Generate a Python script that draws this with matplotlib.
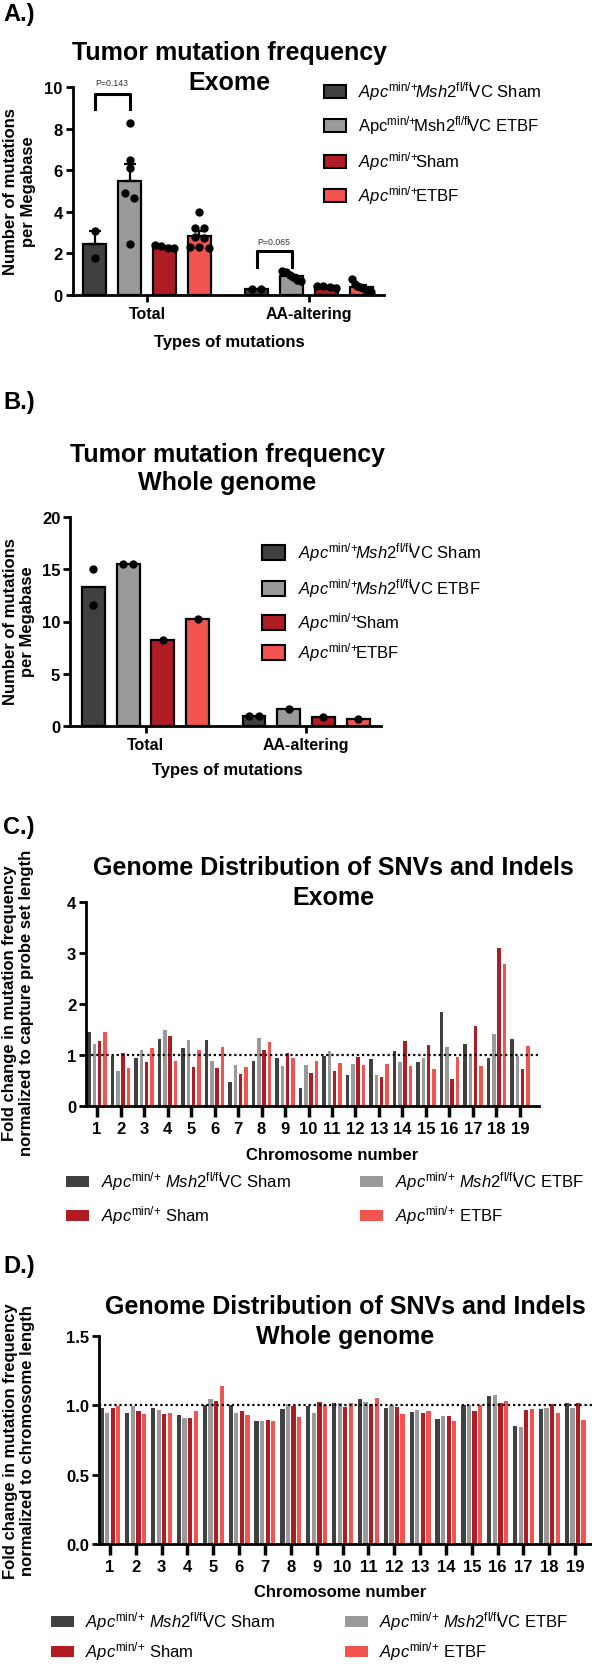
import numpy as np
import matplotlib
matplotlib.use('Agg')
import matplotlib.pyplot as plt
from matplotlib.patches import Rectangle

plt.rcParams['font.family'] = ['Liberation Sans', 'DejaVu Sans']
plt.rcParams['mathtext.fontset'] = 'custom'
plt.rcParams['mathtext.rm'] = 'Liberation Sans'
plt.rcParams['mathtext.it'] = 'Liberation Sans:italic'
plt.rcParams['mathtext.bf'] = 'Liberation Sans:bold'

# ---- data ----
colors = ['#404040', '#9a9a9a', '#b01c24', '#f2554f']

labels_a = [r'$\mathit{Apc}^{\mathrm{min/{+}}}\!\mathit{Msh2}^{\mathrm{fl/fl}}\!$VC Sham',
            r'Apc$^{\mathrm{min/{+}}}\!$Msh2$^{\mathrm{fl/fl}}\!$VC ETBF',
            r'$\mathit{Apc}^{\mathrm{min/{+}}}\!$Sham',
            r'$\mathit{Apc}^{\mathrm{min/{+}}}\!$ETBF']
labels_b = [r'$\mathit{Apc}^{\mathrm{min/{+}}}\!\mathit{Msh2}^{\mathrm{fl/fl}}\!$VC Sham',
            r'$\mathit{Apc}^{\mathrm{min/{+}}}\!\mathit{Msh2}^{\mathrm{fl/fl}}\!$VC ETBF',
            r'$\mathit{Apc}^{\mathrm{min/{+}}}\!$Sham',
            r'$\mathit{Apc}^{\mathrm{min/{+}}}\!$ETBF']
labels_cd = [r'$\mathit{Apc}^{\mathrm{min/{+}}}$ $\mathit{Msh2}^{\mathrm{fl/fl}}\!$VC Sham',
             r'$\mathit{Apc}^{\mathrm{min/{+}}}$ $\mathit{Msh2}^{\mathrm{fl/fl}}\!$VC ETBF',
             r'$\mathit{Apc}^{\mathrm{min/{+}}}$ Sham',
             r'$\mathit{Apc}^{\mathrm{min/{+}}}$ ETBF']

mut_types = ['Total', 'AA-altering']

# panel A: exome, per-tumour mutations per Mb
exome_total = [[3.1, 1.8],
               [8.25, 6.5, 6.1, 4.9, 4.65, 2.45],
               [2.4, 2.35, 2.25, 2.25],
               [4.0, 3.2, 3.2, 2.8, 2.75, 2.3, 2.25, 2.3]]
exome_aa = [[0.3, 0.3],
            [1.15, 1.1, 0.95, 0.85, 0.7, 0.65],
            [0.45, 0.45, 0.4, 0.35],
            [0.75, 0.55, 0.45, 0.4, 0.35, 0.25, 0.2, 0.15]]
p_exome = ['P=0.143', 'P=0.065']

# panel B: whole genome
wgs_total = [[15.0, 11.6], [15.55, 15.55], [8.2], [10.25]]
wgs_aa = [[1.0, 1.0], [1.6], [0.82], [0.65]]

chromosomes = [str(i) for i in range(1, 20)]

# panel C: exome fold change per chromosome
sham_c = [1.46, 0.99, 0.94, 1.31, 1.13, 1.29, 0.47, 0.88, 0.94, 0.35, 0.99, 0.60, 0.92, 1.08, 0.86, 1.84, 1.22, 0.94, 1.31]
etbf_c = [1.21, 0.68, 1.10, 1.50, 1.29, 0.88, 0.80, 1.34, 0.78, 0.80, 1.08, 0.82, 0.60, 0.86, 0.94, 1.16, 0.99, 1.42, 0.99]
apc_sham_c = [1.28, 1.03, 0.87, 1.37, 0.77, 0.74, 0.62, 1.09, 1.03, 0.65, 0.69, 0.96, 0.57, 1.27, 1.20, 0.52, 1.56, 3.10, 0.73]
apc_etbf_c = [1.46, 0.75, 1.14, 0.89, 1.10, 1.16, 0.77, 1.25, 0.95, 0.88, 0.84, 0.81, 0.82, 0.79, 0.73, 0.97, 0.79, 2.78, 1.18]

# panel D: whole genome fold change per chromosome
sham_d = [0.983, 0.945, 0.978, 0.933, 1.0, 1.0, 0.885, 0.974, 0.998, 1.019, 1.043, 0.978, 0.952, 0.904, 1.005, 1.065, 0.853, 0.974, 1.017]
etbf_d = [0.947, 0.995, 0.966, 0.909, 1.046, 0.947, 0.887, 1.012, 0.947, 1.014, 1.022, 1.0, 0.966, 0.925, 1.005, 1.077, 0.844, 0.981, 0.978]
apc_sham_d = [0.98, 0.957, 0.94, 0.909, 1.034, 0.962, 0.897, 0.995, 1.022, 0.988, 1.007, 0.986, 0.942, 0.925, 0.957, 1.019, 0.966, 1.01, 1.014]
apc_etbf_d = [0.995, 0.937, 0.945, 0.96, 1.14, 0.928, 0.887, 0.913, 1.0, 1.019, 1.053, 0.935, 0.959, 0.889, 1.005, 1.034, 0.971, 0.945, 0.892]

W, H = 592, 1665
fig = plt.figure(figsize=(W / 100, H / 100), dpi=100)


def fx(px):
    return px / W


def fy(py):
    return 1 - py / H


def axes_px(left, top, right, bottom):
    return fig.add_axes([fx(left), fy(bottom), (right - left) / W, (bottom - top) / H])


def style(ax, xlen=5, xw=2):
    for s in ['top', 'right']:
        ax.spines[s].set_visible(False)
    for s in ['left', 'bottom']:
        ax.spines[s].set_linewidth(2)
    ax.tick_params(axis='y', length=5, width=2, labelsize=12, pad=2)
    ax.tick_params(axis='x', length=xlen, width=xw, labelsize=12, pad=3)
    for t in ax.get_xticklabels() + ax.get_yticklabels():
        t.set_fontweight('bold')


def spread(vals, tol, d, maxw):
    vals = np.asarray(vals, dtype=float)
    order = np.argsort(-vals)
    offs = np.zeros(len(vals))
    clusters = []
    for i in order:
        if clusters and abs(vals[clusters[-1][-1]] - vals[i]) <= tol:
            clusters[-1].append(i)
        else:
            clusters.append([i])
    for c in clusters:
        n = len(c)
        if n > 1:
            step = min(d, maxw / (n - 1))
            for j, i in enumerate(c):
                offs[i] = (j - (n - 1) / 2) * step
    return offs


def group_bars(ax, groups, tol, err):
    pitch, w = 0.216, 0.142
    for gi, data in enumerate(groups):
        for k, pts in enumerate(data):
            x = gi + (k - 1.5) * pitch
            m = np.mean(pts)
            ax.bar(x, m, w, color=colors[k], edgecolor='black', linewidth=1.6, zorder=2)
            if err and len(pts) > 1:
                sem = np.std(pts, ddof=1) / np.sqrt(len(pts))
                if sem > 0:
                    ax.errorbar(x, m, yerr=[[0], [sem]], color='black', lw=1.6,
                                capsize=4, capthick=1.6, zorder=3)
            off = spread(pts, tol, 0.06, 0.12)
            ax.plot(x + off, pts, 'o', color='black', ms=5, zorder=4, clip_on=False)


def bracket(ax, x0, x1, top, leg, text, ty):
    ax.plot([x0, x0, x1, x1], [leg, top, top, leg], color='black', lw=2.2,
            clip_on=False, zorder=5)
    ax.text((x0 + x1) / 2, ty, text, ha='center', va='center', fontsize=6.3,
            color='#333333')


def legend_rows(xs, ys, xt, labels, w, h, edge, fs):
    for x, y, t, lab, c in zip(xs, ys, xt, labels, colors):
        fig.patches.append(Rectangle((fx(x), fy(y + h / 2)), w / W, h / H,
                                     transform=fig.transFigure, facecolor=c,
                                     edgecolor='black' if edge else c,
                                     linewidth=1.5 if edge else 0))
        fig.text(fx(t), fy(y), lab, va='center', ha='left', fontsize=fs)


def panel_text(py, s):
    fig.text(fx(3), fy(py), s, fontsize=17, fontweight='bold', va='center', ha='left')


def title(px, py, s):
    fig.text(fx(px), fy(py), s, fontsize=18, fontweight='bold', ha='center', va='center')


def ylabel(px, py, s):
    fig.text(fx(px), fy(py), s, fontsize=12, fontweight='bold', ha='center', va='center',
             rotation=90, multialignment='center')


def xlabel(px, py, s):
    fig.text(fx(px), fy(py), s, fontsize=12, fontweight='bold', ha='center', va='center')


# ---------------- A ----------------
panel_text(15, 'A.)')
title(229, 53, 'Tumor mutation frequency')
title(229, 83, 'Exome')
axA = axes_px(72.5, 88, 384, 296)
group_bars(axA, [exome_total, exome_aa], 0.3, True)
axA.set_xlim(-0.46, 1.463)
axA.set_ylim(0, 10)
axA.set_yticks([0, 2, 4, 6, 8, 10])
axA.set_xticks([0, 1])
axA.set_xticklabels(mut_types)
style(axA)
for t in axA.get_xticklabels():
    t.set_fontsize(11.5)
bracket(axA, 0 - 1.5 * 0.216, 0 - 0.5 * 0.216, 9.66, 8.94, p_exome[0], 10.2)
bracket(axA, 1 - 1.5 * 0.216, 1 - 0.5 * 0.216, 2.1, 1.35, p_exome[1], 2.55)
ylabel(19.5, 192, 'Number of mutations\nper Megabase')
xlabel(229, 342, 'Types of mutations')
legend_rows([324] * 4, [92, 126, 162, 196], [358] * 4, labels_a, 22, 13, True, 12)

# ---------------- B ----------------
panel_text(403, 'B.)')
title(227, 455, 'Tumor mutation frequency')
title(227, 483, 'Whole genome')
axB = axes_px(70, 518, 381, 727)
group_bars(axB, [wgs_total, wgs_aa], 0.6, False)
axB.set_xlim(-0.47, 1.466)
axB.set_ylim(0, 20)
axB.set_yticks([0, 5, 10, 15, 20])
axB.set_xticks([0, 1])
axB.set_xticklabels(mut_types)
style(axB)
for t in axB.get_xticklabels():
    t.set_fontsize(11.5)
ylabel(19, 622, 'Number of mutations\nper Megabase')
xlabel(227, 771, 'Types of mutations')
legend_rows([262] * 4, [553, 589, 623, 653], [298] * 4, labels_b, 23, 15, True, 12)


def chrom_bars(ax, series, pitch, w):
    idx = np.arange(len(chromosomes))
    for k, vals in enumerate(series):
        ax.bar(idx + (k - 1.5) * pitch, vals, w, color=colors[k], linewidth=0, zorder=2)
    ax.axhline(1, color='black', lw=1.6, ls=(0, (1, 1.3)), zorder=3)
    ax.set_xticks(idx)
    ax.set_xticklabels(chromosomes)


# ---------------- C ----------------
panel_text(828, 'C.)')
title(333, 868, 'Genome Distribution of SNVs and Indels')
title(333, 898, 'Exome')
axC = axes_px(86, 903, 539, 1107)
chrom_bars(axC, [sham_c, etbf_c, apc_sham_c, apc_etbf_c], 0.222, 0.15)
axC.set_xlim(-0.47, 18.81)
axC.set_ylim(0, 4)
axC.set_yticks([0, 1, 2, 3, 4])
style(axC, xlen=8, xw=2.5)
ylabel(18, 1003, 'Fold change in mutation frequency\nnormalized to capture probe set length')
xlabel(332, 1155, 'Chromosome number')
legend_rows([66, 360, 66, 360], [1182, 1182, 1216, 1216], [101, 395, 101, 395],
            labels_cd, 23, 11, False, 12)

# ---------------- D ----------------
panel_text(1267, 'D.)')
title(345, 1307, 'Genome Distribution of SNVs and Indels')
title(345, 1337, 'Whole genome')
axD = axes_px(99, 1337, 592, 1545)
chrom_bars(axD, [sham_d, etbf_d, apc_sham_d, apc_etbf_d], 0.216, 0.165)
axD.set_xlim(-0.42, 18.65)
axD.set_ylim(0, 1.5)
axD.set_yticks([0, 0.5, 1.0, 1.5])
axD.set_yticklabels(['0.0', '0.5', '1.0', '1.5'])
style(axD, xlen=8, xw=2.5)
ylabel(19, 1441, 'Fold change in mutation frequency\nnormalized to chromosome length')
xlabel(340, 1593, 'Chromosome number')
legend_rows([51, 345, 51, 345], [1622, 1622, 1652, 1652], [85, 379, 85, 379],
            labels_cd, 23, 11, False, 12)

fig.savefig('out.png', dpi=100, facecolor='white')
